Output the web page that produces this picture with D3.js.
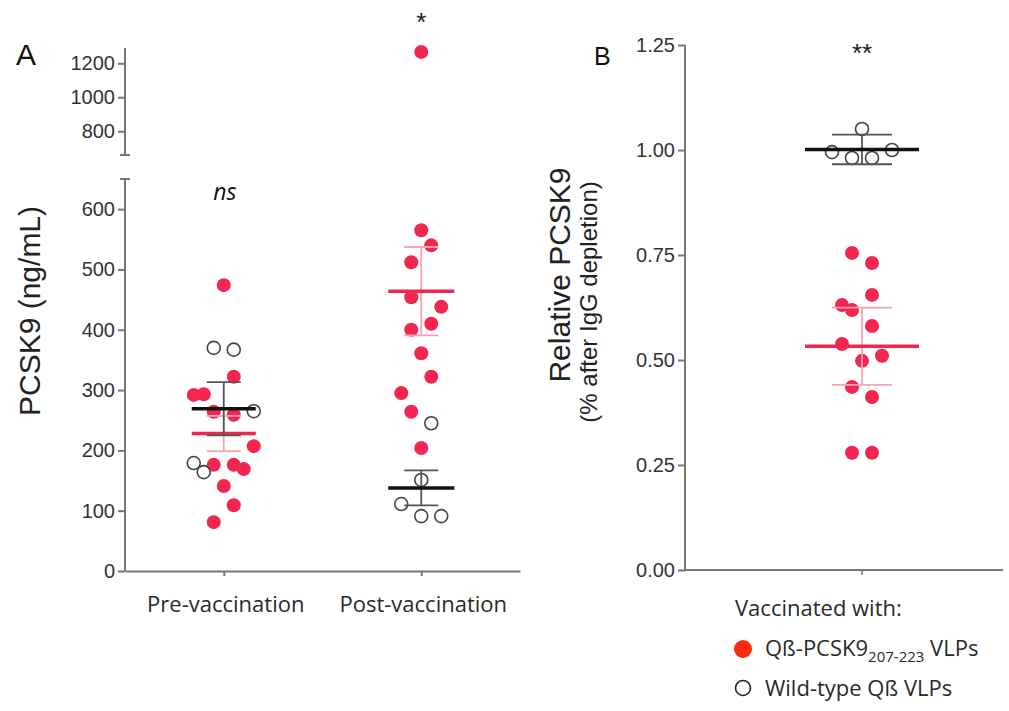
<!DOCTYPE html>
<html lang="en">
<head>
    <meta charset="UTF-8">
    <title>PCSK9 vaccination</title>
    <style>
        body { margin: 0; background: #fff; }
        svg { display: block; }
        .tick text { font-family: "Liberation Sans", Arial, sans-serif; font-size: 20px; fill: #333; }
        .tick line { stroke: #777; stroke-width: 2; }
        .cat { font-family: "Open Sans", sans-serif; font-size: 22px; fill: #2a2a2a; }
    </style>
</head>
<body>
    <div id="chart"></div>

    <script src="https://d3js.org/d3.v7.min.js"></script>
    <script>
        // panel A values (ng/mL)
        var groupsA = ["Pre-vaccination", "Post-vaccination"];
        var preRed = [474, 322, 292, 293, 264, 259, 207, 176, 176, 169, 141, 109, 81];
        var preOpen = [370, 367, 265, 179, 164];
        var postRed = [1267, 565, 540, 512, 454, 438, 410, 400, 361, 322, 295, 264, 204];
        var postOpen = [245, 151, 111, 91, 91];
        var ticksLow = [0, 100, 200, 300, 400, 500, 600];
        var ticksHigh = [800, 1000, 1200];

        // panel B values (relative PCSK9)
        var bRed = [0.755, 0.731, 0.655, 0.631, 0.619, 0.581, 0.538, 0.510, 0.498, 0.436, 0.412, 0.279, 0.279];
        var bOpen = [1.050, 0.995, 0.981, 0.981, 1.000];
        var ticksB = [0, 0.25, 0.5, 0.75, 1.0, 1.25];

        // scatter column slots (jitter layout, in dot steps)
        var preRedSlot = [0, 1, -3, -2, -1, 1, 3, -1, 1, 2, 0, 1, -1];
        var preOpenSlot = [-1, 1, 3, -3, -2];
        var postRedSlot = [0, 0, 1, -1, -1, 2, 1, -1, 0, 1, -2, -1, 0];
        var postOpenSlot = [1, 0, -2, 0, 2];
        var bRedSlot = [-1, 1, 1, -2, -1, 1, -2, 2, 0, -1, 1, -1, 1];
        var bOpenSlot = [0, -3, -1, 1, 3];

        var red = "#f2264e", pink = "#f6a3b4";
        var width = 1009, height = 711;

        var svg = d3.select("#chart").append("svg")
            .attr("width", width)
            .attr("height", height);

        function mean(a) { return d3.mean(a); }
        function sem(a) { return d3.deviation(a) / Math.sqrt(a.length); }
        var tTable = {4: 2.776, 12: 2.179};
        function ci95(a) { return tTable[a.length - 1] * sem(a); }

        // ---------- panel A ----------
        var axA = 125;
        var x = d3.scalePoint().domain(groupsA).range([axA, 520]).padding(0.5);
        var yLow = d3.scaleLinear().domain([0, 650]).range([571, 179]);
        var yHigh = d3.scaleLinear().domain([660, 1290]).range([155, 48]);
        function yA(v) { return v > 650 ? yHigh(v) : yLow(v); }

        var gA = svg.append("g");

        gA.append("g").attr("transform", "translate(" + axA + ",0)")
            .call(d3.axisLeft(yLow).tickValues(ticksLow).tickSize(7).tickPadding(3).tickSizeOuter(0).tickFormat(d3.format("d")));
        gA.append("g").attr("transform", "translate(" + axA + ",0)")
            .call(d3.axisLeft(yHigh).tickValues(ticksHigh).tickSize(7).tickPadding(3).tickSizeOuter(0).tickFormat(d3.format("d")));
        gA.selectAll(".domain").remove();

        var axisStyle = function(sel) { return sel.attr("stroke", "#777").attr("stroke-width", 2).attr("fill", "none"); };
        gA.append("line").attr("x1", axA).attr("x2", axA).attr("y1", yLow.range()[0]).attr("y2", yLow.range()[1]).call(axisStyle);
        gA.append("line").attr("x1", axA - 5).attr("x2", axA + 5).attr("y1", yLow.range()[1]).attr("y2", yLow.range()[1]).call(axisStyle);
        gA.append("line").attr("x1", axA).attr("x2", axA).attr("y1", yHigh.range()[0]).attr("y2", yHigh.range()[1]).call(axisStyle);
        gA.append("line").attr("x1", axA - 5).attr("x2", axA + 5).attr("y1", yHigh.range()[0]).attr("y2", yHigh.range()[0]).call(axisStyle);

        var xAx = gA.append("g").attr("transform", "translate(0,571)")
            .call(d3.axisBottom(x).tickSize(5).tickSizeOuter(0).tickFormat(""));
        xAx.select(".domain").attr("stroke", "#777").attr("stroke-width", 2);
        xAx.selectAll(".tick line").attr("stroke-width", 1.5);

        groupsA.forEach(function(g) {
            gA.append("text").attr("class", "cat")
                .attr("x", x(g) + 2).attr("y", 612)
                .attr("text-anchor", "middle").text(g);
        });

        gA.append("text")
            .attr("transform", "translate(40,311) rotate(-90)")
            .attr("text-anchor", "middle")
            .style("font-family", "Liberation Sans, Arial, sans-serif")
            .style("font-size", "30px").attr("fill", "#222")
            .text("PCSK9 (ng/mL)");

        gA.append("text").attr("x", 16).attr("y", 65)
            .style("font-family", "Liberation Sans, Arial, sans-serif")
            .style("font-size", "30px").attr("fill", "#111").text("A");

        gA.append("text").attr("x", x(groupsA[0]) + 1).attr("y", 200).attr("text-anchor", "middle")
            .style("font-family", "Open Sans, sans-serif").style("font-style", "italic")
            .style("font-size", "23px").attr("fill", "#111").text("ns");
        gA.append("text").attr("x", x(groupsA[1])).attr("y", 31).attr("text-anchor", "middle")
            .style("font-family", "Liberation Sans, Arial, sans-serif")
            .style("font-size", "26px").attr("fill", "#222").text("*");

        function dots(g, cx, yFn, vals, slots, filled, step) {
            g.selectAll(null).data(vals).enter().append("circle")
                .attr("cx", function(d, i) { return cx + slots[i] * step; })
                .attr("cy", function(d) { return yFn(d); })
                .attr("r", filled ? 7 : 6.5)
                .attr("fill", filled ? red : "none")
                .attr("stroke", filled ? "none" : "#444")
                .attr("stroke-width", 1.6);
        }

        function summary(g, cx, yFn, m, e, filled, half, cap) {
            var barCol = filled ? pink : "#555";
            g.append("line").attr("x1", cx).attr("x2", cx).attr("y1", yFn(m - e)).attr("y2", yFn(m + e))
                .attr("stroke", barCol).attr("stroke-width", 1.8);
            [m - e, m + e].forEach(function(v) {
                g.append("line").attr("x1", cx - cap).attr("x2", cx + cap).attr("y1", yFn(v)).attr("y2", yFn(v))
                    .attr("stroke", barCol).attr("stroke-width", 1.8);
            });
            g.append("line").attr("x1", cx - half).attr("x2", cx + half).attr("y1", yFn(m)).attr("y2", yFn(m))
                .attr("stroke", filled ? red : "#111").attr("stroke-width", 3.5);
        }

        var cPre = x(groupsA[0]), cPost = x(groupsA[1]);
        dots(gA, cPre, yA, preRed, preRedSlot, true, 10);
        dots(gA, cPre, yA, preOpen, preOpenSlot, false, 10);
        dots(gA, cPost, yA, postRed, postRedSlot, true, 10);
        dots(gA, cPost, yA, postOpen, postOpenSlot, false, 10);

        summary(gA, cPre, yLow, mean(preRed), sem(preRed), true, 32, 17);
        summary(gA, cPre, yLow, mean(preOpen), sem(preOpen), false, 32, 17);
        summary(gA, cPost, yLow, mean(postRed), sem(postRed), true, 33, 17);
        summary(gA, cPost, yLow, mean(postOpen), sem(postOpen), false, 33, 17);

        // ---------- panel B ----------
        var axB = 685;
        var yB = d3.scaleLinear().domain([0, 1.25]).range([570, 45]);
        var xB = d3.scalePoint().domain(["Post-vaccination"]).range([axB, 1039]).padding(0.5);
        var gB = svg.append("g");

        var yAxB = gB.append("g").attr("transform", "translate(" + axB + ",0)")
            .call(d3.axisLeft(yB).tickValues(ticksB).tickSize(7).tickPadding(3).tickSizeOuter(0)
                .tickFormat(d3.format(".2f")));
        yAxB.select(".domain").remove();
        gB.append("line").attr("x1", axB).attr("x2", axB).attr("y1", yB.range()[0]).attr("y2", yB.range()[1]).call(axisStyle);
        gB.append("line").attr("x1", axB).attr("x2", 1003).attr("y1", 570).attr("y2", 570).call(axisStyle);
        var cB = xB("Post-vaccination");
        gB.append("line").attr("x1", cB).attr("x2", cB).attr("y1", 570).attr("y2", 575)
            .attr("stroke", "#777").attr("stroke-width", 1.5);

        gB.append("text").attr("x", 594).attr("y", 65)
            .style("font-family", "Liberation Sans, Arial, sans-serif")
            .style("font-size", "25px").attr("fill", "#111").text("B");

        gB.append("text")
            .attr("transform", "translate(570,275) rotate(-90)")
            .attr("text-anchor", "middle")
            .style("font-family", "Liberation Sans, Arial, sans-serif")
            .style("font-size", "30px").attr("fill", "#222")
            .text("Relative PCSK9");
        gB.append("text")
            .attr("transform", "translate(597,302) rotate(-90)")
            .attr("text-anchor", "middle")
            .style("font-family", "Liberation Sans, Arial, sans-serif")
            .style("font-size", "24px").attr("fill", "#222")
            .text("(% after IgG depletion)");

        gB.append("text").attr("x", cB).attr("y", 62).attr("text-anchor", "middle")
            .style("font-family", "Liberation Sans, Arial, sans-serif")
            .style("font-size", "26px").attr("fill", "#222").text("**");

        dots(gB, cB, yB, bRed, bRedSlot, true, 10);
        dots(gB, cB, yB, bOpen, bOpenSlot, false, 10);
        summary(gB, cB, yB, mean(bRed), ci95(bRed), true, 57, 30);
        summary(gB, cB, yB, mean(bOpen), ci95(bOpen), false, 57, 30);

        // ---------- legend ----------
        var lg = svg.append("g").attr("class", "cat");
        lg.append("text").attr("x", 735).attr("y", 616).text("Vaccinated with:");
        lg.append("circle").attr("cx", 743).attr("cy", 649).attr("r", 9).attr("fill", "#f72a10");
        var t1 = lg.append("text").attr("x", 765).attr("y", 656);
        t1.append("tspan").text("Q\u00DF-PCSK9");
        t1.append("tspan").attr("dy", 6).style("font-size", "15px").text("207-223");
        t1.append("tspan").attr("dy", -6).text(" VLPs");
        lg.append("circle").attr("cx", 743).attr("cy", 688).attr("r", 7.5)
            .attr("fill", "none").attr("stroke", "#222").attr("stroke-width", 1.6);
        lg.append("text").attr("x", 765).attr("y", 696).text("Wild-type Q\u00DF VLPs");
    </script>
</body>
</html>
